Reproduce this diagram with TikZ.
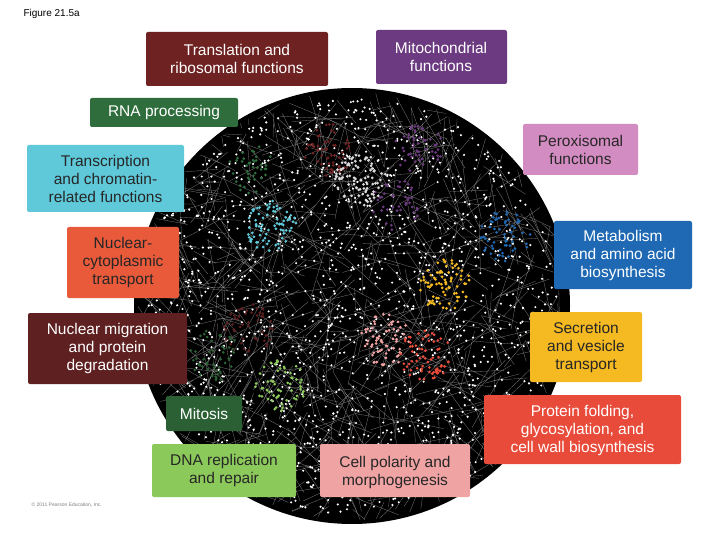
\documentclass[tikz,border=0pt]{standalone}
\usepackage{fontspec}
\setmainfont{Liberation Sans}
\usetikzlibrary{calc}
\begin{document}
\begin{tikzpicture}[x=1pt,y=-1pt,
  lab/.style={rounded corners=2pt,align=center,inner sep=0pt,font=\fontsize{15.5}{18}\selectfont},
  wt/.style={lab,text=white},
  dk/.style={lab,text=black!85}]
\definecolor{cTrans}{HTML}{6E2222}
\definecolor{cMito}{HTML}{6C3A80}
\definecolor{cRNA}{HTML}{2F6E3C}
\definecolor{cPerox}{HTML}{D38CC2}
\definecolor{cTranscr}{HTML}{5FC9D9}
\definecolor{cMetab}{HTML}{1F69B4}
\definecolor{cNuc}{HTML}{E95A3B}
\definecolor{cSecr}{HTML}{F5B922}
\definecolor{cMigr}{HTML}{5E2020}
\definecolor{cMitos}{HTML}{2B6034}
\definecolor{cDNA}{HTML}{8CC95B}
\definecolor{cPol}{HTML}{F0A3A3}
\definecolor{cFold}{HTML}{E84B3A}
\useasboundingbox (0,0) rectangle (720,540);
\fill[white] (0,0) rectangle (720,540);
% network
\node[circle,fill=black,minimum size=436pt,inner sep=0pt] (net) at (352,306) {};
\pgfmathsetseed{7}
\begin{scope}
\clip (net.center) circle (214pt);
\foreach \i in {1,...,900}{
  \pgfmathsetmacro{\aa}{rnd*360}\pgfmathsetmacro{\ra}{210*sqrt(rnd)}
  \pgfmathsetmacro{\ab}{rnd*360}\pgfmathsetmacro{\rb}{15+50*rnd}
  \draw[gray!60,line width=0.3pt,opacity=0.7] ($(net.center)+(\aa:\ra)$) -- ++(\ab:\rb);
}
\end{scope}
\foreach \i in {1,...,1500}{
  \pgfmathsetmacro{\aa}{rnd*360}\pgfmathsetmacro{\ra}{208*sqrt(rnd)}
  \fill[white] ($(net.center)+(\aa:\ra)$) circle (1.2pt);
}
\foreach \cx/\cy/\col/\n in {330/150/cTrans/60, 420/150/cMito/50, 250/170/cRNA/40, 505/235/cMetab/60, 270/225/cTranscr/80, 445/285/cSecr/80, 395/205/cMito/40, 250/330/cMigr/50, 215/355/cMitos/50, 280/385/cDNA/60, 385/340/cPol/70, 425/355/cFold/70, 360/180/gray!30/90}{
  \foreach \k in {1,...,\n}{
    \pgfmathsetmacro{\aa}{rnd*360}\pgfmathsetmacro{\ra}{26*sqrt(rnd)}
    \fill[\col] ($(\cx,\cy)+(\aa:\ra)$) circle (1.5pt);
  }
}
% labels
\node[font=\fontsize{10}{12}\selectfont,anchor=west] (fig) at (20,14) {Figure 21.5a};
\node[font=\fontsize{5}{6}\selectfont,text=gray,anchor=west] (copy) at (28,505) {\textcopyright{} 2011 Pearson Education, Inc.};
\fill[cTrans,rounded corners=2pt] (146,32) rectangle (328,86);
\node[wt] (t1) at (237,59) {Translation and\\ribosomal functions};
\fill[cMito,rounded corners=2pt] (376,30) rectangle (507,84);
\node[wt] (t2) at (441,57) {Mitochondrial\\functions};
\fill[cRNA,rounded corners=2pt] (90,98) rectangle (238,127);
\node[wt] (t3) at (164,112.5) {RNA processing};
\fill[cPerox,rounded corners=2pt] (523,124) rectangle (638,175);
\node[dk] (t4) at (580.5,149.5) {Peroxisomal\\functions};
\fill[cTranscr,rounded corners=2pt] (27,145) rectangle (184,212);
\node[dk] (t5) at (105.5,178.5) {Transcription\\and chromatin-\\related functions};
\fill[cMetab,rounded corners=2pt] (554,221) rectangle (692,289);
\node[wt] (t6) at (623,255) {Metabolism\\and amino acid\\biosynthesis};
\fill[cNuc,rounded corners=2pt] (67,227) rectangle (179,298);
\node[dk] (t7) at (123,262.5) {Nuclear-\\cytoplasmic\\transport};
\fill[cSecr,rounded corners=2pt] (530,312) rectangle (642,382);
\node[dk] (t8) at (586,347) {Secretion\\and vesicle\\transport};
\fill[cMigr,rounded corners=2pt] (28,313) rectangle (187,384);
\node[wt] (t9) at (107.5,348.5) {Nuclear migration\\and protein\\degradation};
\fill[cMitos,rounded corners=2pt] (166,396) rectangle (242,431);
\node[wt] (t10) at (204,413.5) {Mitosis};
\fill[cDNA,rounded corners=2pt] (152,444) rectangle (296,497);
\node[dk] (t11) at (224,470.5) {DNA replication\\and repair};
\fill[cPol,rounded corners=2pt] (320,444) rectangle (470,497);
\node[dk] (t12) at (395,472) {Cell polarity and\\morphogenesis};
\fill[cFold,rounded corners=2pt] (484,395) rectangle (681,464);
\node[wt] (t13) at (582.5,430) {Protein folding,\\glycosylation, and\\cell wall biosynthesis};
\end{tikzpicture}
\end{document}
